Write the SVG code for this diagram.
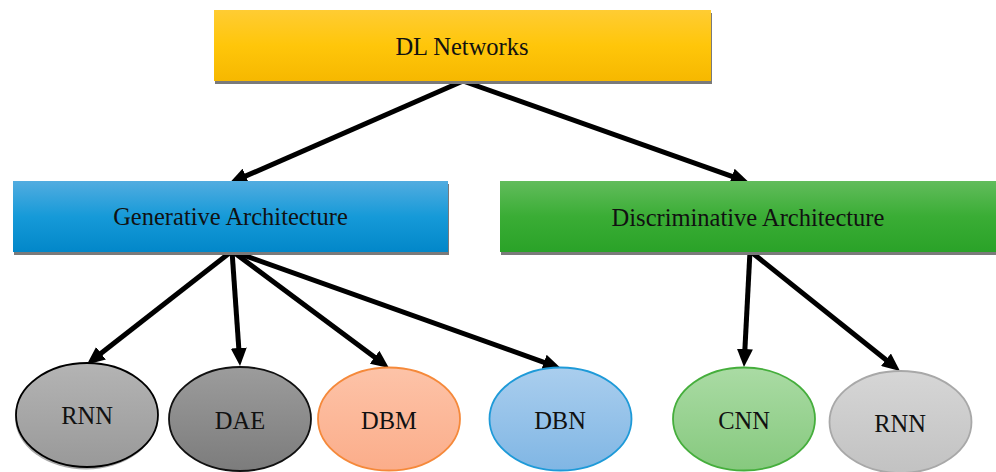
<svg xmlns="http://www.w3.org/2000/svg" width="996" height="472" viewBox="0 0 996 472">
  <defs>
    <linearGradient id="gYellow" x1="0" y1="0" x2="0" y2="1">
      <stop offset="0" stop-color="#FFCC33"/>
      <stop offset="0.5" stop-color="#FFC60A"/>
      <stop offset="1" stop-color="#F6B800"/>
    </linearGradient>
    <linearGradient id="gBlue" x1="0" y1="0" x2="0" y2="1">
      <stop offset="0" stop-color="#52ACE0"/>
      <stop offset="0.5" stop-color="#169AD8"/>
      <stop offset="1" stop-color="#0287C9"/>
    </linearGradient>
    <linearGradient id="gGreen" x1="0" y1="0" x2="0" y2="1">
      <stop offset="0" stop-color="#62BC5C"/>
      <stop offset="0.5" stop-color="#3AAD35"/>
      <stop offset="1" stop-color="#2AA228"/>
    </linearGradient>
    <linearGradient id="gGray1" x1="0" y1="0" x2="0" y2="1">
      <stop offset="0" stop-color="#B4B4B4"/>
      <stop offset="1" stop-color="#999999"/>
    </linearGradient>
    <linearGradient id="gGray2" x1="0" y1="0" x2="0" y2="1">
      <stop offset="0" stop-color="#9C9C9C"/>
      <stop offset="1" stop-color="#7C7C7C"/>
    </linearGradient>
    <linearGradient id="gOrange" x1="0" y1="0" x2="0" y2="1">
      <stop offset="0" stop-color="#FDC3A8"/>
      <stop offset="1" stop-color="#FBAD8A"/>
    </linearGradient>
    <linearGradient id="gLBlue" x1="0" y1="0" x2="0" y2="1">
      <stop offset="0" stop-color="#AACEEE"/>
      <stop offset="1" stop-color="#80B6E4"/>
    </linearGradient>
    <linearGradient id="gLGreen" x1="0" y1="0" x2="0" y2="1">
      <stop offset="0" stop-color="#AADBA4"/>
      <stop offset="1" stop-color="#86C97E"/>
    </linearGradient>
    <linearGradient id="gLGray" x1="0" y1="0" x2="0" y2="1">
      <stop offset="0" stop-color="#D6D6D6"/>
      <stop offset="1" stop-color="#C2C2C2"/>
    </linearGradient>
    <marker id="arrow" markerUnits="userSpaceOnUse" markerWidth="18" markerHeight="16" refX="6" refY="8" orient="auto">
      <path d="M0,0 L18,8 L0,16 z" fill="#000"/>
    </marker>
    <style>
      .lbl { font-family: "Liberation Serif", "Times New Roman", serif; font-size: 24.5px; fill: #111; text-anchor: middle; }
      .shadow { fill: #7a7a7a; }
      .conn { stroke: #000; stroke-width: 5; fill: none; marker-end: url(#arrow); }
    </style>
  </defs>

  <g id="connectors">
    <line class="conn" x1="463" y1="81" x2="240.3" y2="178.4"/>
    <line class="conn" x1="463" y1="81" x2="737.6" y2="178.3"/>
    <line class="conn" x1="232" y1="251" x2="96.3" y2="357"/>
    <line class="conn" x1="232" y1="251" x2="239.2" y2="354"/>
    <line class="conn" x1="232" y1="251" x2="379.4" y2="360.8"/>
    <line class="conn" x1="232" y1="251" x2="549.6" y2="364.3"/>
    <line class="conn" x1="750" y1="251" x2="744.6" y2="355"/>
    <line class="conn" x1="750" y1="251" x2="890.6" y2="363.5"/>
  </g>

  <g id="dl-networks">
    <rect class="shadow" x="215" y="13" width="497" height="71"/>
    <rect x="214" y="10" width="497" height="71" fill="url(#gYellow)"/>
    <text class="lbl" x="462" y="55">DL Networks</text>
  </g>

  <g id="generative">
    <rect class="shadow" x="14" y="184" width="435" height="71"/>
    <rect x="13" y="181" width="435" height="71" fill="url(#gBlue)"/>
    <text class="lbl" x="230.5" y="225">Generative Architecture</text>
  </g>

  <g id="discriminative">
    <rect class="shadow" x="501" y="184" width="496" height="71"/>
    <rect x="500" y="181" width="496" height="71" fill="url(#gGreen)"/>
    <text class="lbl" x="748" y="226">Discriminative Architecture</text>
  </g>

  <g id="rnn-gen">
    <ellipse cx="86" cy="417.5" rx="71" ry="52" fill="#555" opacity="0.5"/>
    <ellipse cx="87" cy="415" rx="71" ry="52" fill="url(#gGray1)" stroke="#000" stroke-width="1.8"/>
    <text class="lbl" x="87" y="424">RNN</text>
  </g>

  <g id="dae">
    <ellipse cx="240" cy="419" rx="71" ry="52" fill="url(#gGray2)" stroke="#111" stroke-width="1.8"/>
    <text class="lbl" x="240" y="429">DAE</text>
  </g>

  <g id="dbm">
    <ellipse cx="389" cy="419" rx="71" ry="51.5" fill="url(#gOrange)" stroke="#F5893A" stroke-width="1.8"/>
    <text class="lbl" x="389" y="429">DBM</text>
  </g>

  <g id="dbn">
    <ellipse cx="560.5" cy="419" rx="71" ry="51.5" fill="url(#gLBlue)" stroke="#1E9AD8" stroke-width="1.8"/>
    <text class="lbl" x="560" y="429">DBN</text>
  </g>

  <g id="cnn">
    <ellipse cx="744" cy="419" rx="71" ry="51.5" fill="url(#gLGreen)" stroke="#45AE3C" stroke-width="1.8"/>
    <text class="lbl" x="744" y="429">CNN</text>
  </g>

  <g id="rnn-disc">
    <ellipse cx="900.5" cy="422" rx="71" ry="51" fill="url(#gLGray)" stroke="#A8A8A8" stroke-width="1.8"/>
    <text class="lbl" x="900" y="432">RNN</text>
  </g>
</svg>
